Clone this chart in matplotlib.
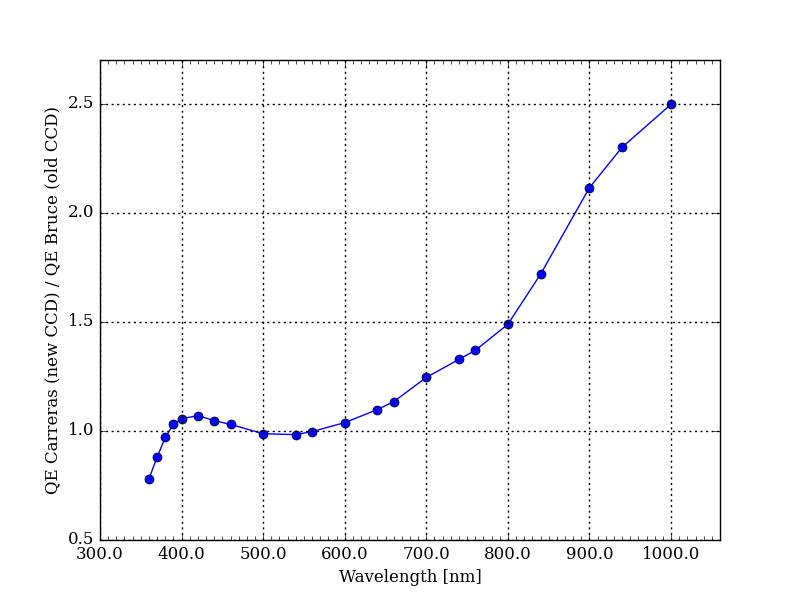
import numpy as np
import matplotlib
matplotlib.use("Agg")
import matplotlib.pyplot as plt
from matplotlib.ticker import MultipleLocator, FormatStrFormatter

# ratio of QE, new CCD over old CCD
wavelength = [360, 370, 380, 390, 400, 420, 440, 460, 500, 540, 560, 600,
              640, 660, 700, 740, 760, 800, 840, 900, 940, 1000]
qe_ratio = [0.78, 0.88, 0.97, 1.03, 1.056, 1.07, 1.047, 1.03, 0.987, 0.983,
            0.997, 1.038, 1.098, 1.134, 1.245, 1.328, 1.369, 1.489, 1.718,
            2.115, 2.300, 2.497]

plt.style.use('classic')
plt.rcParams['font.family'] = 'DejaVu Serif'

fig = plt.figure(figsize=(8, 6), dpi=100)
fig.patch.set_facecolor('white')
ax = fig.add_subplot(111)
fig.subplots_adjust(left=0.125, right=0.9, bottom=0.1, top=0.9)

ax.plot(wavelength, qe_ratio, 'bo-', markersize=6.5, linewidth=1)

ax.set_xlim(300, 1060)
ax.set_ylim(0.5, 2.7)
ax.xaxis.set_major_locator(MultipleLocator(100))
ax.xaxis.set_minor_locator(MultipleLocator(10))
ax.yaxis.set_major_locator(MultipleLocator(0.5))
ax.xaxis.set_major_formatter(FormatStrFormatter('%.1f'))
ax.yaxis.set_major_formatter(FormatStrFormatter('%.1f'))
ax.tick_params(which='minor', length=3)
ax.tick_params(which='major', length=5)
ax.grid(True, color='k', linestyle=(0, (1.5, 2.5)), linewidth=1.0)

ax.set_xlabel('Wavelength [nm]')
ax.set_ylabel('QE Carreras (new CCD) / QE Bruce (old CCD)')

fig.savefig('out.png', dpi=100, facecolor='white')
